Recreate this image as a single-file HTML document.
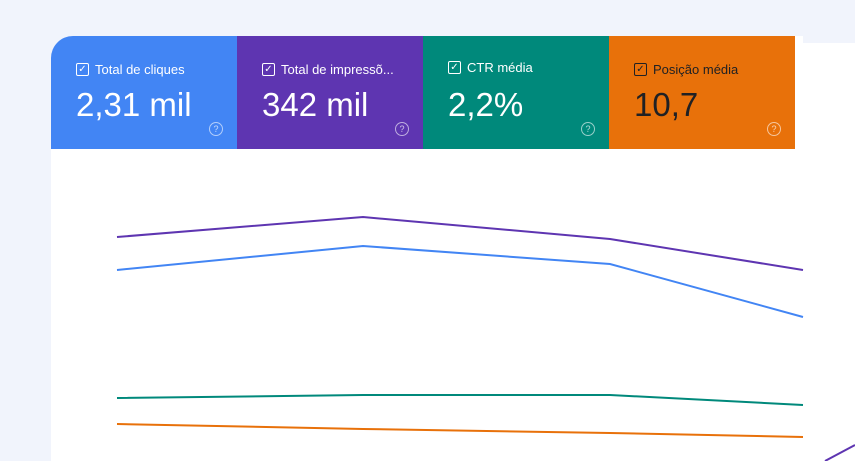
<!DOCTYPE html>
<html><head><meta charset="utf-8"><style>
body{margin:0;width:855px;height:461px;overflow:hidden;background:#f1f4fc;font-family:"Liberation Sans",sans-serif;position:relative}
.w{position:absolute;background:#fff}
.t{position:absolute;top:36px;height:113px;width:186px;color:#fff}
.t .l{position:absolute;left:25px;top:26px;font-size:13px;display:flex;align-items:center}
.cb{width:11px;height:11px;border:1.5px solid currentColor;border-radius:2px;margin-right:6px;font-size:10px;line-height:11px;text-align:center}
.t .v{position:absolute;left:25px;top:50px;font-size:33px}
.t .q{position:absolute;right:14px;bottom:13px;width:12px;height:12px;border:1.5px solid rgba(255,255,255,.6);border-radius:50%;font-size:9px;line-height:12px;text-align:center;color:rgba(255,255,255,.7)}
</style></head><body>
<div class="w" style="left:803px;top:43px;width:52px;height:418px"></div>
<div class="w" style="left:51px;top:36px;width:752px;height:425px;border-top-left-radius:22px"></div>
<div class="t" style="left:51px;background:#4285f4;border-top-left-radius:22px"><div class="l"><span class="cb">✓</span>Total de cliques</div><div class="v">2,31 mil</div><div class="q">?</div></div>
<div class="t" style="left:237px;background:#5e35b1"><div class="l"><span class="cb">✓</span>Total de impressõ...</div><div class="v">342 mil</div><div class="q">?</div></div>
<div class="t" style="left:423px;background:#00897b"><div class="l" style="top:24px"><span class="cb">✓</span>CTR média</div><div class="v">2,2%</div><div class="q">?</div></div>
<div class="t" style="left:609px;background:#e8710a;color:#202124"><div class="l"><span class="cb">✓</span>Posição média</div><div class="v">10,7</div><div class="q">?</div></div>
<svg style="position:absolute;left:0;top:0" width="855" height="461" fill="none" stroke-width="2">
<polyline points="117,237 363,217 610,239 803,270" stroke="#5e35b1"/>
<polyline points="117,270 363,246 610,264 803,317" stroke="#4285f4"/>
<polyline points="117,398 363,395 610,395 803,405" stroke="#00897b"/>
<polyline points="117,424 363,429 610,433 803,437" stroke="#e8710a"/>
<line x1="825" y1="461" x2="855" y2="445" stroke="#5e35b1"/>
</svg>
</body></html>
